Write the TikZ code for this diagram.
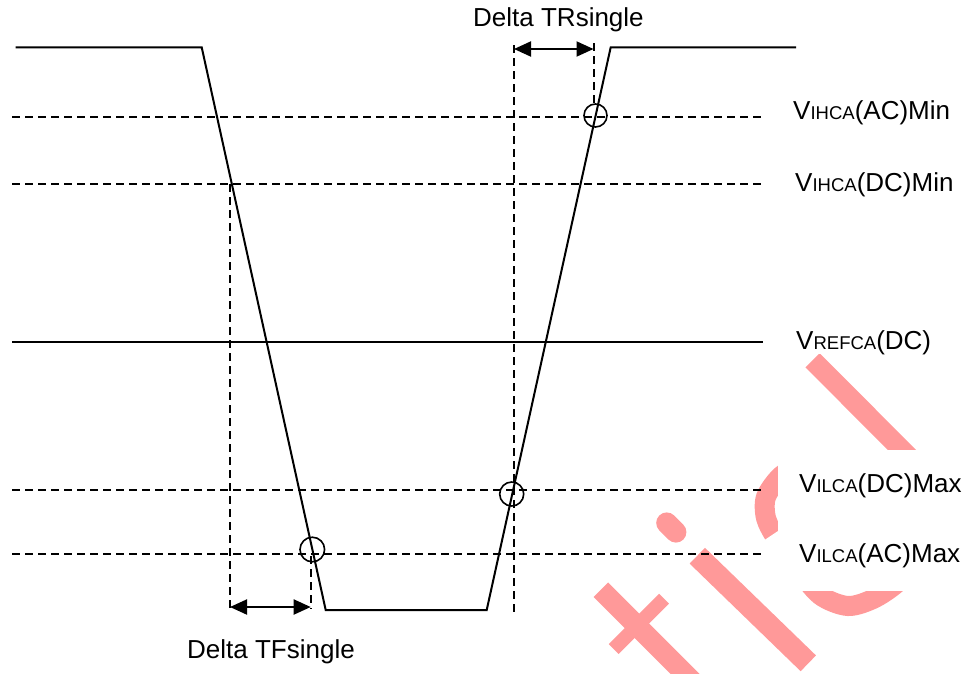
\documentclass[tikz,border=0pt]{standalone}
\usepackage{fontspec}
\setmainfont{Liberation Sans}
\usetikzlibrary{arrows.meta}
\definecolor{wm}{RGB}{255,153,153}
\newcommand{\smallsub}[1]{{\fontsize{18.5}{20}\selectfont #1}}
\begin{document}
\begin{tikzpicture}[x=1pt,y=-1pt,
  wave/.style={line width=2pt,line join=miter},
  guide/.style={line width=1.7pt,dash pattern=on 8pt off 5pt},
  ringmark/.style={draw,circle,line width=1.6pt,inner sep=0pt},
  dimline/.style={line width=2pt,{Triangle[length=17pt,width=15pt]}-{Triangle[length=17pt,width=15pt]}},
  lbl/.style={font=\fontsize{26}{30}\selectfont,inner sep=0pt,anchor=base west},
  wmark/.style={draw=wm,line cap=butt}
]
\useasboundingbox (0,0) rectangle (971,673);
\fill[white] (0,0) rectangle (971,673);

% watermark
\begin{scope}
\clip (0,0) rectangle (971,673);
\draw[wmark,line width=20.5pt] (600.8,589.7) -- ++(110,110);
\draw[wmark,line width=14pt] (613.7,649) -- (664,598.7);
\draw[wmark,line width=22pt] (697.3,555.7) -- (808.3,663.3);
\draw[wmark,line width=21pt,line cap=round] (666.7,522.9) -- (675.9,532.1);
\draw[wmark,line width=20pt] (812.5,360.3) -- (930,478);
\draw[wmark,line width=20pt] plot[smooth] coordinates {(805,462) (781,476) (766,497) (766,518) (776,538) (795,565) (820,595) (848,606) (875,598) (900,580) (915,555)};
\end{scope}
% label backgrounds
\fill[white] (778,318) rectangle (971,353.5);
\fill[white] (778,450) rectangle (971,521);
\fill[white] (778,521) rectangle (971,591);
\fill[white] (763,541) -- (778,531) -- (778,591) -- (763,591) -- cycle;

% waveform
\coordinate (h1) at (15.7,47.3);
\coordinate (f1) at (201.7,47.3);
\coordinate (f2) at (325.7,610);
\coordinate (r1) at (486.7,610);
\coordinate (r2) at (610.7,47.3);
\coordinate (h2) at (796,47.3);
\draw[wave] (h1) -- (f1) -- (f2) -- (r1) -- (r2) -- (h2);

% reference levels
\coordinate (acmin1) at (12,117);   \coordinate (acmin2) at (763,117);
\coordinate (dcmin1) at (12,184);   \coordinate (dcmin2) at (763,184);
\coordinate (ref1) at (12,342);     \coordinate (ref2) at (763,342);
\coordinate (dcmax1) at (12,490);   \coordinate (dcmax2) at (763,490);
\coordinate (acmax1) at (12,554);   \coordinate (acmax2) at (763,554);
\draw[guide] (acmin1) -- (acmin2);
\draw[guide] (dcmin1) -- (dcmin2);
\draw[line width=2pt] (ref1) -- (ref2);
\draw[guide] (dcmax1) -- (dcmax2);
\draw[guide] (acmax1) -- (acmax2);

% vertical guides
\coordinate (va1) at (230,184);    \coordinate (va2) at (230,609);
\coordinate (vb1) at (311,556);    \coordinate (vb2) at (311,609);
\coordinate (vc1) at (514,45);     \coordinate (vc2) at (514,612);
\coordinate (vd1) at (594,43);     \coordinate (vd2) at (594,104);
\draw[guide] (va1) -- (va2);
\draw[guide] (vb1) -- (vb2);
\draw[guide] (vc1) -- (vc2);
\draw[guide] (vd1) -- (vd2);

% crossing marks
\node[ringmark,minimum size=24.6pt] (m1) at (312.3,549.5) {};
\node[ringmark,minimum size=24pt] (m2) at (511.7,494) {};
\node[ringmark,minimum size=23pt] (m3) at (595.5,115.5) {};

% dimension arrows
\coordinate (tf1) at (230,607);  \coordinate (tf2) at (310.7,607);
\coordinate (tr1) at (514,49);   \coordinate (tr2) at (593.5,49);
\draw[dimline] (tf1) -- (tf2);
\draw[dimline] (tr1) -- (tr2);

% texts
\node[lbl] (trl) at (473,26.7) {Delta TRsingle};
\node[lbl] (tfl) at (187,658) {Delta TFsingle};
\node[lbl] (l1) at (793,119) {V\smallsub{IHCA}(AC)Min};
\node[lbl] (l2) at (795,191.5) {V\smallsub{IHCA}(DC)Min};
\node[lbl] (l3) at (796,349) {V\smallsub{REFCA}(DC)};
\node[lbl] (l4) at (799,492.5) {V\smallsub{ILCA}(DC)Max};
\node[lbl] (l5) at (799,562.5) {V\smallsub{ILCA}(AC)Max};
\end{tikzpicture}
\end{document}
